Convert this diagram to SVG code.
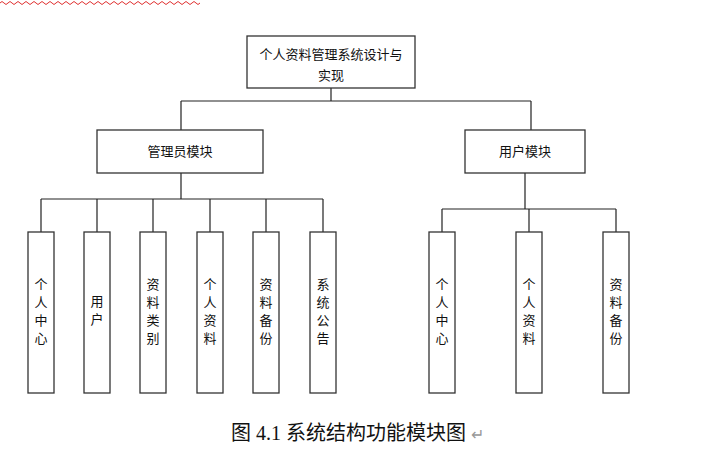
<svg xmlns="http://www.w3.org/2000/svg" width="718" height="467" viewBox="0 0 718 467">
<style>
.b{fill:#fff;stroke:#333;stroke-width:1.3}
.t{font-family:"Noto Sans CJK SC",sans-serif;font-size:13px;fill:#111;text-anchor:middle}
.c{stroke:#222;stroke-width:1.2;fill:none}
</style>
<rect width="718" height="467" fill="#fff"/>
<path d="M0,3 q2,-3 4,0 t4,0 t4,0 t4,0 t4,0 t4,0 t4,0 t4,0 t4,0 t4,0 t4,0 t4,0 t4,0 t4,0 t4,0 t4,0 t4,0 t4,0 t4,0 t4,0 t4,0 t4,0 t4,0 t4,0 t4,0 t4,0 t4,0 t4,0 t4,0 t4,0 t4,0 t4,0 t4,0 t4,0 t4,0 t4,0 t4,0 t4,0 t4,0 t4,0 t4,0 t4,0 t4,0 t4,0 t4,0 t4,0 t4,0 t4,0 t4,0 t4,0" fill="none" stroke="#e03030" stroke-width="1"/>
<g id="connectors" class="c">
<path d="M331,88V101M181,101H531M181,101V130M531,101V130"/>
<path d="M181,173V199M41,199H323M41,199V232M97,199V232M153,199V232M210,199V232M266,199V232M323,199V232"/>
<path d="M525,173V209M442,209H616M442,209V232M529,209V232M616,209V232"/>
</g>
<g id="root"><rect class="b" x="247" y="36" width="168" height="52"/><text class="t" x="331" y="59">个人资料管理系统设计与</text><text class="t" x="331" y="80">实现</text></g>
<g id="admin"><rect class="b" x="97" y="130" width="166" height="43"/><text class="t" x="180" y="156">管理员模块</text></g>
<g id="user"><rect class="b" x="465" y="130" width="120" height="43"/><text class="t" x="525" y="156">用户模块</text></g>
<g id="a1"><rect class="b" x="28" y="232" width="26" height="161"/><text class="t" x="41" y="289">个</text><text class="t" x="41" y="307">人</text><text class="t" x="41" y="325">中</text><text class="t" x="41" y="343">心</text></g>
<g id="a2"><rect class="b" x="84" y="232" width="26" height="161"/><text class="t" x="97" y="306">用</text><text class="t" x="97" y="324">户</text></g>
<g id="a3"><rect class="b" x="140" y="232" width="26" height="161"/><text class="t" x="153" y="289">资</text><text class="t" x="153" y="307">料</text><text class="t" x="153" y="325">类</text><text class="t" x="153" y="343">别</text></g>
<g id="a4"><rect class="b" x="197" y="232" width="26" height="161"/><text class="t" x="210" y="289">个</text><text class="t" x="210" y="307">人</text><text class="t" x="210" y="325">资</text><text class="t" x="210" y="343">料</text></g>
<g id="a5"><rect class="b" x="253" y="232" width="26" height="161"/><text class="t" x="266" y="289">资</text><text class="t" x="266" y="307">料</text><text class="t" x="266" y="325">备</text><text class="t" x="266" y="343">份</text></g>
<g id="a6"><rect class="b" x="310" y="232" width="26" height="161"/><text class="t" x="323" y="289">系</text><text class="t" x="323" y="307">统</text><text class="t" x="323" y="325">公</text><text class="t" x="323" y="343">告</text></g>
<g id="u1"><rect class="b" x="429" y="232" width="26" height="161"/><text class="t" x="442" y="289">个</text><text class="t" x="442" y="307">人</text><text class="t" x="442" y="325">中</text><text class="t" x="442" y="343">心</text></g>
<g id="u2"><rect class="b" x="516" y="232" width="26" height="161"/><text class="t" x="529" y="289">个</text><text class="t" x="529" y="307">人</text><text class="t" x="529" y="325">资</text><text class="t" x="529" y="343">料</text></g>
<g id="u3"><rect class="b" x="603" y="232" width="26" height="161"/><text class="t" x="616" y="289">资</text><text class="t" x="616" y="307">料</text><text class="t" x="616" y="325">备</text><text class="t" x="616" y="343">份</text></g>
<text x="231" y="440" font-family="'Liberation Serif','Noto Sans CJK SC',serif" font-size="20" fill="#111">图 4.1 系统结构功能模块图 <tspan fill="#999" font-size="16">↵</tspan></text>
</svg>
